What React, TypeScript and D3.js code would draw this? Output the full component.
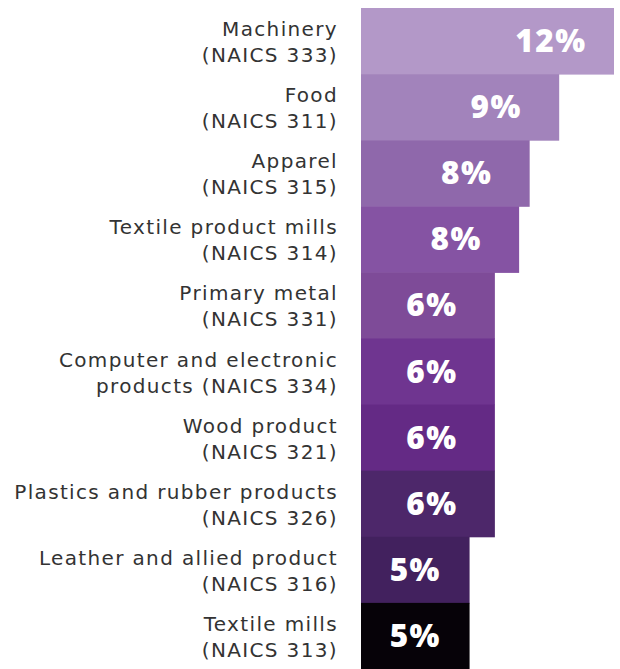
import React from "react";
import * as d3 from "d3";

const categories = [
  "Machinery|(NAICS 333)",
  "Food|(NAICS 311)",
  "Apparel|(NAICS 315)",
  "Textile product mills|(NAICS 314)",
  "Primary metal|(NAICS 331)",
  "Computer and electronic|products (NAICS 334)",
  "Wood product|(NAICS 321)",
  "Plastics and rubber products|(NAICS 326)",
  "Leather and allied product|(NAICS 316)",
  "Textile mills|(NAICS 313)",
];
const values = [12.0, 9.4, 8.0, 7.5, 6.35, 6.35, 6.35, 6.35, 5.15, 5.15];
const valueLabels = ["12%", "9%", "8%", "8%", "6%", "6%", "6%", "6%", "5%", "5%"];
const colors = [
  "#b398c8", "#a283bb", "#8f68ab", "#8553a3", "#7e4b98",
  "#6f3590", "#642a85", "#4d276a", "#42215e", "#060208",
];

const W = 620;
const H = 669;
const x0 = 361;
const top = 8;

export default function App() {
  const x = d3.scaleLinear().domain([0, 12]).range([x0, x0 + 253]);
  const y = d3
    .scaleBand<number>()
    .domain(d3.range(categories.length))
    .range([top, H])
    .padding(0);
  const bw = y.bandwidth();
  return (
    <svg
      width={W}
      height={H}
      style={{ position: "absolute", left: 0, top: 0, display: "block" }}
    >
      {values.map((v, i) => {
        const yy = y(i)!;
        const right = x(v);
        const cx = Math.max((x0 + right) / 2, right - 63);
        const lines = categories[i].split("|");
        const cy = yy + bw / 2;
        return (
          <g key={i}>
            <rect x={x0} y={yy} width={right - x0} height={bw + 0.5} fill={colors[i]} />
            <text
              x={cx}
              y={cy + 11}
              textAnchor="middle"
              fill="#fff"
              fontFamily="'Open Sans', sans-serif"
              fontWeight={800}
              fontSize={31.5}
              letterSpacing={1.5}
            >
              {valueLabels[i]}
            </text>
            {lines.map((l, j) => (
              <text
                key={j}
                x={338}
                y={cy - 5 + j * 26}
                textAnchor="end"
                fill="#333"
                fontFamily="'DejaVu Sans', sans-serif"
                fontSize={20}
                letterSpacing={1.35}
              >
                {l}
              </text>
            ))}
          </g>
        );
      })}
    </svg>
  );
}
